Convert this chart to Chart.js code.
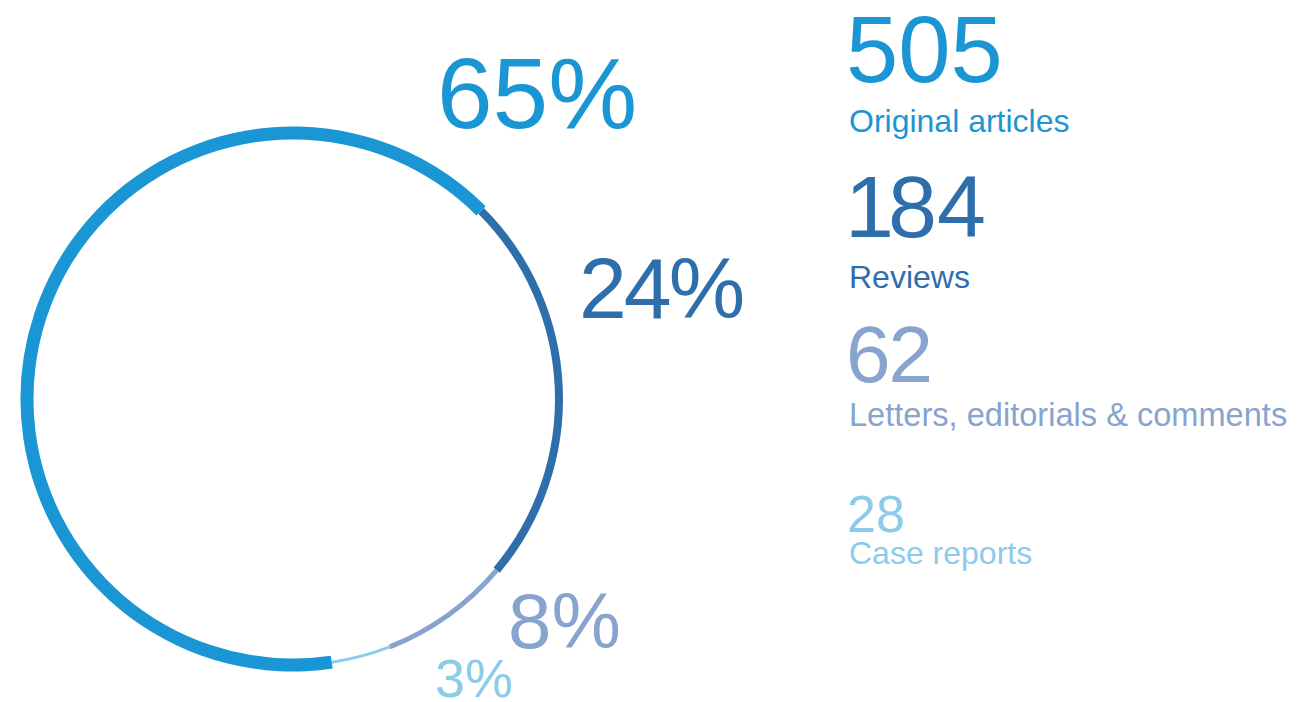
<!DOCTYPE html>
<html><head><meta charset="utf-8">
<script src="https://cdn.jsdelivr.net/npm/chart.js@4.4.1/dist/chart.umd.min.js"></script>
<style>
html,body{margin:0;padding:0;background:#fff;width:1297px;height:702px;overflow:hidden;font-family:"Liberation Sans",Arial,Helvetica,sans-serif;}
#wrap{position:absolute;left:3px;top:109px;width:580px;height:580px;}
.t{position:absolute;white-space:nowrap;line-height:1;margin:0;}
</style></head><body>
<div id="wrap"><canvas id="c"></canvas></div>
<div id="labels"></div>
<script>
// ---- data ----
const categories = ['Original articles', 'Reviews', 'Letters, editorials & comments', 'Case reports'];
const values = [505, 184, 62, 28];
const percentLabels = ['65%', '24%', '8%', '3%'];

// ---- styles ----
const colors = ['#1a96d4', '#2e6eab', '#87a3ce', '#8ccbea'];
const thickness = [13, 8, 5, 3];
const ringRadius = 266;
const startRotation = 45 - 360 * values[0] / values.reduce((a, b) => a + b, 0);

const nRings = categories.length;
const datasets = categories.map((cat, k) => {
  const t = thickness[k];
  const outer = ringRadius + t / 2 + k * t;
  const inner = outer - nRings * t;
  return {
    label: cat,
    data: values,
    backgroundColor: colors.map((col, j) => j === k ? col : 'rgba(0,0,0,0)'),
    borderWidth: 0,
    hoverOffset: 0,
    weight: 1,
    radius: outer,
    cutout: (inner / outer * 100) + '%',
    rotation: startRotation
  };
});

new Chart(document.getElementById('c'), {
  type: 'doughnut',
  data: { labels: categories, datasets: datasets },
  options: {
    responsive: true,
    maintainAspectRatio: false,
    animation: false,
    events: [],
    layout: { padding: 0 },
    plugins: { legend: { display: false }, tooltip: { enabled: false } }
  }
});

// ---- text (HTML) ----
const holder = document.getElementById('labels');
function place(html, left, baseline, size, color, extra) {
  const d = document.createElement('div');
  d.className = 't';
  d.innerHTML = html;
  d.style.left = left + 'px';
  d.style.top = (baseline - 0.8465 * size) + 'px';
  d.style.fontSize = size + 'px';
  d.style.color = color;
  if (extra) Object.assign(d.style, extra);
  holder.appendChild(d);
  return d;
}
// percentage labels near the ring
const pctPos = [[437, 128, 100, '0px'], [579, 318, 86, '-3px'], [508, 648, 78, '0px'], [435, 697, 54, '0px']];
percentLabels.forEach((p, i) => {
  const [x, y, s, ls] = pctPos[i];
  place(p, x, y, s, colors[i], { letterSpacing: ls });
});
// legend on the right
const numPos = [[846, 83, 94], [845, 237, 88], [846, 383, 80], [847, 532, 52]];
const catPos = [[849, 132], [849, 288], [849, 427], [849, 564]];
values.forEach((v, i) => {
  const [x, y, s] = numPos[i];
  let txt = String(v);
  if (txt[0] === '1') txt = '<span style="margin-right:-6px">1</span>' + txt.slice(1);
  place(txt, x, y, s, colors[i], { letterSpacing: i === 2 ? '-2px' : '0' });
  const [cx, cy] = catPos[i];
  place(categories[i].replace('&', '&amp;'), cx, cy, i === 2 ? 32.6 : 32, colors[i]);
});
</script>
</body></html>
